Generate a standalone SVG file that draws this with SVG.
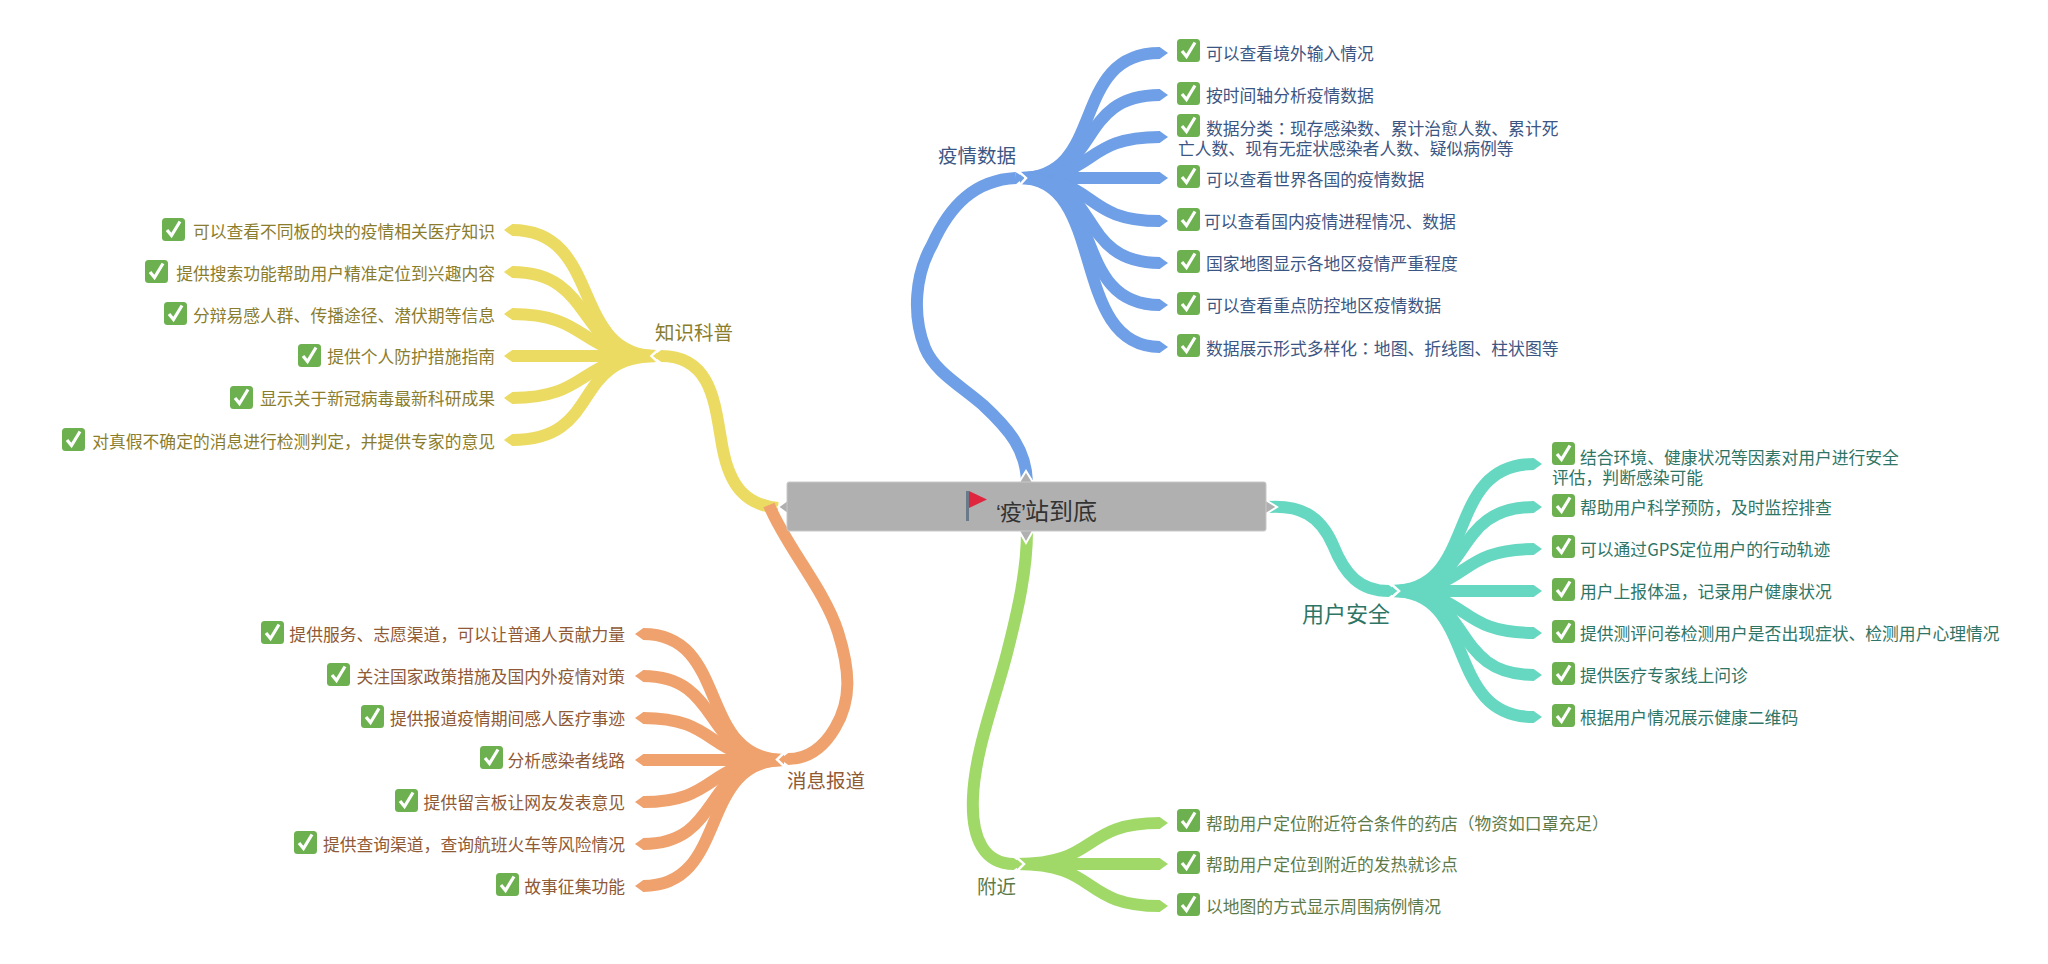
<svg xmlns="http://www.w3.org/2000/svg" width="2048" height="964" viewBox="0 0 2048 964">
<style>
text{font-family:"Noto Sans CJK SC","Liberation Sans",sans-serif;font-size:16.8px}
.c{fill:none;stroke-linecap:butt}
.main{stroke-width:12}
.leaf{stroke-width:12}
.b{stroke:#6f9fe6}.y{stroke:#ecdb62}.o{stroke:#efa26d}.t{stroke:#66d8c2}.g{stroke:#a0d968}
.tb{fill:#3c5684}.ty{fill:#8a7d2e}.to{fill:#8f5a36}.tt{fill:#2f7566}.tg{fill:#5d7a48}
.lab{font-size:19.5px}
.e{text-anchor:end}
.gap{fill:none;stroke:#fff;stroke-width:2.5}
.colon{font-family:"Noto Sans CJK TC",sans-serif}
.q{font-family:"Liberation Sans",sans-serif;font-size:22px}
</style>
<defs>
<g id="chk"><rect width="23" height="23" rx="3.5" fill="#6cb04f"/><path d="M5 12L9.500 17.500L18 3.500" fill="none" stroke="#fff" stroke-width="3.200"/></g>
<marker id="mb" markerUnits="strokeWidth" markerWidth=".7" markerHeight="1" viewBox="0 -.5 .7 1" refX=".02" orient="auto"><path d="M0-.5L.7 0L0 .5z" fill="#6f9fe6"/></marker>
<marker id="my" markerUnits="strokeWidth" markerWidth=".7" markerHeight="1" viewBox="0 -.5 .7 1" refX=".02" orient="auto"><path d="M0-.5L.7 0L0 .5z" fill="#ecdb62"/></marker>
<marker id="mo" markerUnits="strokeWidth" markerWidth=".7" markerHeight="1" viewBox="0 -.5 .7 1" refX=".02" orient="auto"><path d="M0-.5L.7 0L0 .5z" fill="#efa26d"/></marker>
<marker id="mt" markerUnits="strokeWidth" markerWidth=".7" markerHeight="1" viewBox="0 -.5 .7 1" refX=".02" orient="auto"><path d="M0-.5L.7 0L0 .5z" fill="#66d8c2"/></marker>
<marker id="mg" markerUnits="strokeWidth" markerWidth=".7" markerHeight="1" viewBox="0 -.5 .7 1" refX=".02" orient="auto"><path d="M0-.5L.7 0L0 .5z" fill="#a0d968"/></marker>
</defs>
<rect width="2048" height="964" fill="#fff"/>
<g id="connectors">
<g marker-end="url(#mb)">
<path class="c leaf b" d="M1020 178C1108 178 1068 53 1160 53"/>
<path class="c leaf b" d="M1020 178C1104 178 1074 95 1160 95"/>
<path class="c leaf b" d="M1020 178C1100 178 1080 137 1160 137"/>
<path class="c leaf b" d="M1020 178H1160"/>
<path class="c leaf b" d="M1020 178C1100 178 1080 221 1160 221"/>
<path class="c leaf b" d="M1020 178C1104 178 1074 263 1160 263"/>
<path class="c leaf b" d="M1020 178C1108 178 1068 305 1160 305"/>
<path class="c leaf b" d="M1020 178C1108 178 1068 347 1160 347"/>
</g>
<path class="gap" d="M1017 170L1026 178L1018 187"/>
<path class="c main b" marker-end="url(#mb)" d="M1027 482C1026 450 1010 430 983 405C960 385 935 372 925 348C912 315 915 275 932 245C950 205 975 180 1016 178"/>
<g marker-end="url(#my)">
<path class="c leaf y" d="M657 356C569 356 604 230 512 230"/>
<path class="c leaf y" d="M657 356C573 356 598 272 512 272"/>
<path class="c leaf y" d="M657 356C577 356 592 314 512 314"/>
<path class="c leaf y" d="M657 356H512"/>
<path class="c leaf y" d="M657 356C577 356 592 398 512 398"/>
<path class="c leaf y" d="M657 356C569 356 604 440 512 440"/>
</g>
<path class="gap" d="M660 348L651.500 356L660 364"/>
<path class="c main y" marker-end="url(#my)" d="M778 508C745 505 730 485 723 450C715 410 715 356 661 356"/>
<g marker-end="url(#mo)">
<path class="c leaf o" d="M784 760C696 760 731 634 643 634"/>
<path class="c leaf o" d="M784 760C700 760 725 676 643 676"/>
<path class="c leaf o" d="M784 760C704 760 721 718 643 718"/>
<path class="c leaf o" d="M784 760H643"/>
<path class="c leaf o" d="M784 760C704 760 721 802 643 802"/>
<path class="c leaf o" d="M784 760C700 760 725 844 643 844"/>
<path class="c leaf o" d="M784 760C696 760 731 886 643 886"/>
</g>
<path class="gap" d="M786 751L777 759.500L786 768"/>
<path class="c main o" marker-end="url(#mo)" d="M769 505C785 545 825 590 838 632C850 670 852 700 835 728C822 750 805 759 788 759"/>
<g marker-end="url(#mt)">
<path class="c leaf t" d="M1392 591C1480 591 1442 464 1534 464"/>
<path class="c leaf t" d="M1392 591C1476 591 1448 507 1534 507"/>
<path class="c leaf t" d="M1392 591C1472 591 1454 549 1534 549"/>
<path class="c leaf t" d="M1392 591H1534"/>
<path class="c leaf t" d="M1392 591C1472 591 1454 633 1534 633"/>
<path class="c leaf t" d="M1392 591C1476 591 1448 675 1534 675"/>
<path class="c leaf t" d="M1392 591C1480 591 1442 717 1534 717"/>
</g>
<path class="gap" d="M1390 583L1399 591L1390 599"/>
<path class="c main t" marker-end="url(#mt)" d="M1268 507C1300 505 1320 515 1333 545C1345 575 1360 591 1389 591"/>
<g marker-end="url(#mg)">
<path class="c leaf g" d="M1017 864C1100 864 1080 823 1160 823"/>
<path class="c leaf g" d="M1017 864H1160"/>
<path class="c leaf g" d="M1017 864C1100 864 1080 906 1160 906"/>
</g>
<path class="gap" d="M1015 856L1024 864L1016 872"/>
<path class="c main g" marker-end="url(#mg)" d="M1027 531C1027 570 1018 610 1007 653C995 700 975 750 973 797C971 840 985 864 1014 864"/>
</g>
<g id="root">
<path d="M1018 484L1026 471L1034 484z M1018 529L1026 543L1034 529z M789 499L778 507L789 515z M1264 499L1277 507L1264 515z" fill="#b0b0b0" stroke="#fff" stroke-width="2"/>
<rect x="787" y="482" width="479" height="49" rx="2" fill="#b0b0b0" stroke="#c8c8c8"/>
<rect x="966" y="491" width="3" height="30" fill="#6b7a88"/>
<path d="M969 491L987 499.500L969 508z" fill="#e0263f"/>
<text fill="#333" y="520" style="font-size:24px"><tspan class="q" x="996">‘</tspan><tspan x="1000" style="font-size:22px">疫</tspan><tspan class="q" x="1021">’</tspan><tspan x="1025">站到底</tspan></text>
</g>
<g id="n-data"><text class="lab tb" x="938" y="163">疫情数据</text></g>
<g id="n-d1"><use href="#chk" x="1177" y="39"/><text class="tb" x="1206" y="60">可以查看境外输入情况</text></g>
<g id="n-d2"><use href="#chk" x="1177" y="82"/><text class="tb" x="1206" y="102">按时间轴分析疫情数据</text></g>
<g id="n-d3"><use href="#chk" x="1177" y="114"/><text class="tb" x="1206" y="135">数据分类<tspan class="colon">：</tspan>现存感染数、累计治愈人数、累计死</text><text class="tb" x="1178" y="155">亡人数、现有无症状感染者人数、疑似病例等</text></g>
<g id="n-d4"><use href="#chk" x="1177" y="165"/><text class="tb" x="1206" y="186">可以查看世界各国的疫情数据</text></g>
<g id="n-d5"><use href="#chk" x="1177" y="208"/><text class="tb" x="1204" y="228">可以查看国内疫情进程情况、数据</text></g>
<g id="n-d6"><use href="#chk" x="1177" y="250"/><text class="tb" x="1206" y="270">国家地图显示各地区疫情严重程度</text></g>
<g id="n-d7"><use href="#chk" x="1177" y="292"/><text class="tb" x="1206" y="312">可以查看重点防控地区疫情数据</text></g>
<g id="n-d8"><use href="#chk" x="1177" y="334"/><text class="tb" x="1206" y="355">数据展示形式多样化<tspan class="colon">：</tspan>地图、折线图、柱状图等</text></g>
<g id="n-know"><text class="lab ty" x="655" y="340">知识科普</text></g>
<g id="n-k1"><use href="#chk" x="162" y="218"/><text class="ty e" x="495" y="238">可以查看不同板的块的疫情相关医疗知识</text></g>
<g id="n-k2"><use href="#chk" x="145" y="260"/><text class="ty e" x="495" y="280">提供搜索功能帮助用户精准定位到兴趣内容</text></g>
<g id="n-k3"><use href="#chk" x="164" y="302"/><text class="ty e" x="495" y="322">分辩易感人群、传播途径、潜伏期等信息</text></g>
<g id="n-k4"><use href="#chk" x="298" y="344"/><text class="ty e" x="495" y="363">提供个人防护措施指南</text></g>
<g id="n-k5"><use href="#chk" x="230" y="386"/><text class="ty e" x="495" y="405">显示关于新冠病毒最新科研成果</text></g>
<g id="n-k6"><use href="#chk" x="62" y="428"/><text class="ty e" x="495" y="448">对真假不确定的消息进行检测判定，并提供专家的意见</text></g>
<g id="n-news"><text class="lab to" x="787" y="788">消息报道</text></g>
<g id="n-o1"><use href="#chk" x="261" y="621"/><text class="to e" x="625" y="641">提供服务、志愿渠道，可以让普通人贡献力量</text></g>
<g id="n-o2"><use href="#chk" x="327" y="663"/><text class="to e" x="625" y="683">关注国家政策措施及国内外疫情对策</text></g>
<g id="n-o3"><use href="#chk" x="361" y="705"/><text class="to e" x="625" y="725">提供报道疫情期间感人医疗事迹</text></g>
<g id="n-o4"><use href="#chk" x="480" y="746"/><text class="to e" x="625" y="767">分析感染者线路</text></g>
<g id="n-o5"><use href="#chk" x="395" y="789"/><text class="to e" x="625" y="809">提供留言板让网友发表意见</text></g>
<g id="n-o6"><use href="#chk" x="294" y="831"/><text class="to e" x="625" y="851">提供查询渠道，查询航班火车等风险情况</text></g>
<g id="n-o7"><use href="#chk" x="496" y="873"/><text class="to e" x="625" y="893">故事征集功能</text></g>
<g id="n-safe"><text class="tt" style="font-size:22px" x="1302" y="622">用户安全</text></g>
<g id="n-t1"><use href="#chk" x="1552" y="442"/><text class="tt" x="1580" y="464">结合环境、健康状况等因素对用户进行安全</text><text class="tt" x="1552" y="484">评估，判断感染可能</text></g>
<g id="n-t2"><use href="#chk" x="1552" y="494"/><text class="tt" x="1580" y="514">帮助用户科学预防，及时监控排查</text></g>
<g id="n-t3"><use href="#chk" x="1552" y="535"/><text class="tt" x="1580" y="556">可以通过GPS定位用户的行动轨迹</text></g>
<g id="n-t4"><use href="#chk" x="1552" y="578"/><text class="tt" x="1580" y="598">用户上报体温，记录用户健康状况</text></g>
<g id="n-t5"><use href="#chk" x="1552" y="620"/><text class="tt" x="1580" y="640">提供测评问卷检测用户是否出现症状、检测用户心理情况</text></g>
<g id="n-t6"><use href="#chk" x="1552" y="662"/><text class="tt" x="1580" y="682">提供医疗专家线上问诊</text></g>
<g id="n-t7"><use href="#chk" x="1552" y="704"/><text class="tt" x="1580" y="724">根据用户情况展示健康二维码</text></g>
<g id="n-near"><text class="lab tg" x="977" y="894">附近</text></g>
<g id="n-g1"><use href="#chk" x="1177" y="809"/><text class="tg" x="1206" y="830">帮助用户定位附近符合条件的药店（物资如口罩充足）</text></g>
<g id="n-g2"><use href="#chk" x="1177" y="851"/><text class="tg" x="1206" y="871">帮助用户定位到附近的发热就诊点</text></g>
<g id="n-g3"><use href="#chk" x="1177" y="893"/><text class="tg" x="1206" y="913">以地图的方式显示周围病例情况</text></g>
</svg>
